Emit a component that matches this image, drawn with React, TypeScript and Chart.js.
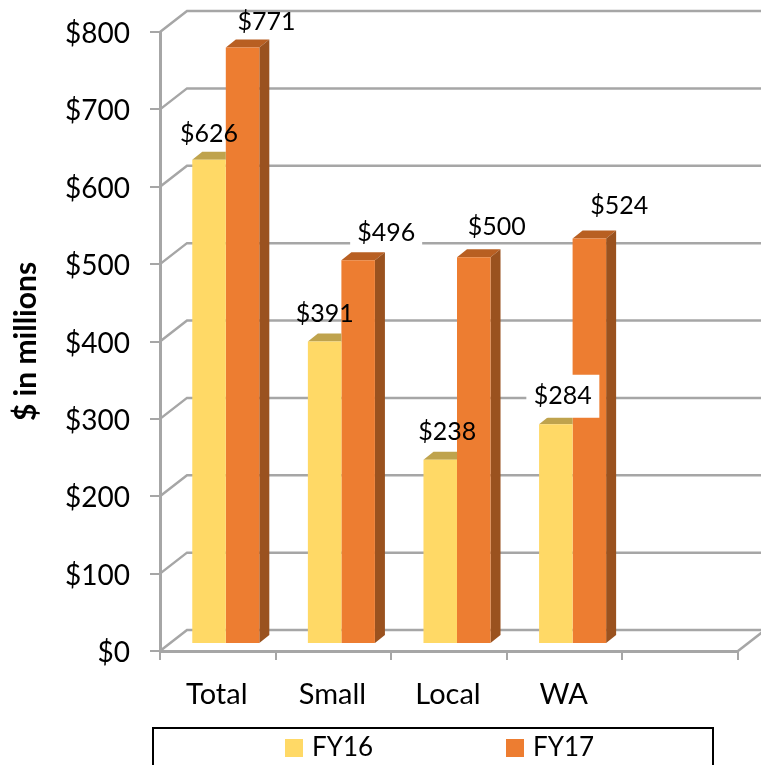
import React, { useEffect, useRef } from "react";
import { Chart, registerables } from "chart.js";

Chart.register(...registerables);

const categories = ["Total", "Small", "Local", "WA", ""];
const fy16 = [626, 391, 238, 284, null];
const fy17 = [771, 496, 500, 524, null];
const yTicks = [0, 100, 200, 300, 400, 500, 600, 700, 800];

const FONT = "Lato, Carlito, 'Open Sans', sans-serif";
const GRID = "#A6A6A6";
const AXIS_FONT = 28;
const DEPTH_X = 27;
const DEPTH_Y = 21;
const BAR_DX = 8;
const BAR_DY = -7;
const FACE_X = 10;
const FACE_Y = 8;

const colors = [
  { front: "#FFD966", top: "#BFA34D", side: "#A68C3F" },
  { front: "#ED7D31", top: "#B85F22", side: "#9A521F" },
];
// label offsets from the top-centre of each bar, [dx, dy]
const labelOffsets = [
  [[0, -26], [0, -28], [7, -28], [7, -28]],
  [[24, -26], [28, -27], [23, -30], [30, -33]],
];
// labels that sit on a white plate: [width, height]
const labelPlates: Record<string, number[]> = { "1-1": [72, 30], "0-3": [73, 43] };

const wallPlugin = {
  id: "wall",
  beforeDraw(chart: any) {
    const { ctx, chartArea: a, scales } = chart;
    ctx.save();
    ctx.strokeStyle = GRID;
    ctx.lineWidth = 2.5;
    for (const t of yTicks) {
      const y = scales.y.getPixelForValue(t);
      ctx.beginPath();
      ctx.moveTo(a.left, y);
      ctx.lineTo(a.left + DEPTH_X, y - DEPTH_Y);
      ctx.lineTo(a.right + DEPTH_X, y - DEPTH_Y);
      ctx.stroke();
    }
    ctx.beginPath();
    ctx.moveTo(a.right, a.bottom);
    ctx.lineTo(a.right + DEPTH_X, a.bottom - DEPTH_Y);
    ctx.stroke();
    ctx.restore();
  },
};

const barsPlugin = {
  id: "bars3d",
  beforeDatasetsDraw(chart: any) {
    chart.ctx.save();
    chart.ctx.translate(BAR_DX, BAR_DY);
  },
  // Chart.js paints the last dataset first, so FY17's faces go down first and
  // FY16's are trimmed where the FY17 bar stands in front of them.
  beforeDatasetDraw(chart: any, args: any) {
    const { ctx, data } = chart;
    const c = colors[args.index];
    const hiddenBehindNext = args.index === 0;
    const meta = chart.getDatasetMeta(args.index);
    meta.data.forEach((bar: any, i: number) => {
      if (data.datasets[args.index].data[i] == null) return;
      const { x, y, base, width } = bar.getProps(["x", "y", "base", "width"], true);
      const l = x - width / 2;
      const r = x + width / 2;
      ctx.fillStyle = c.top;
      ctx.beginPath();
      ctx.moveTo(l, y);
      ctx.lineTo(l + FACE_X, y - FACE_Y);
      ctx.lineTo(hiddenBehindNext ? r : r + FACE_X, y - FACE_Y);
      ctx.lineTo(r, y);
      ctx.closePath();
      ctx.fill();
      if (hiddenBehindNext) return;
      ctx.fillStyle = c.side;
      ctx.beginPath();
      ctx.moveTo(r, y);
      ctx.lineTo(r + FACE_X, y - FACE_Y);
      ctx.lineTo(r + FACE_X, base - FACE_Y);
      ctx.lineTo(r, base);
      ctx.closePath();
      ctx.fill();
    });
  },
  afterDatasetsDraw(chart: any) {
    chart.ctx.restore();
    const { ctx, data } = chart;
    ctx.save();
    ctx.font = `25px ${FONT}`;
    ctx.textAlign = "center";
    ctx.textBaseline = "middle";
    data.datasets.forEach((ds: any, d: number) => {
      chart.getDatasetMeta(d).data.forEach((bar: any, i: number) => {
        const v = ds.data[i];
        if (v == null) return;
        const [dx, dy] = labelOffsets[d][i];
        const px = bar.x + BAR_DX + dx;
        const py = bar.y + BAR_DY + dy;
        const plate = labelPlates[`${d}-${i}`];
        if (plate) {
          ctx.fillStyle = "#FFFFFF";
          ctx.fillRect(px - plate[0] / 2, py - plate[1] / 2, plate[0], plate[1]);
        }
        ctx.fillStyle = "#000000";
        ctx.fillText(`$${v}`, px, py);
      });
    });
    ctx.restore();
    // legend
    ctx.save();
    ctx.strokeStyle = "#000000";
    ctx.lineWidth = 2;
    ctx.strokeRect(153, 728, 560, 60);
    ctx.font = `26px ${FONT}`;
    ctx.textAlign = "left";
    ctx.textBaseline = "middle";
    data.datasets.forEach((ds: any, d: number) => {
      const x = 285 + d * 221;
      ctx.fillStyle = ds.backgroundColor;
      ctx.fillRect(x, 739, 18, 18);
      ctx.fillStyle = "#000000";
      ctx.fillText(ds.label, x + 27, 748);
    });
    ctx.restore();
  },
};

export default function App() {
  const ref = useRef<HTMLCanvasElement>(null);
  useEffect(() => {
    const chart = new Chart(ref.current as HTMLCanvasElement, {
      type: "bar",
      data: {
        labels: categories,
        datasets: [
          { label: "FY16", data: fy16, backgroundColor: colors[0].front, clip: false },
          { label: "FY17", data: fy17, backgroundColor: colors[1].front, clip: false },
        ],
      },
      plugins: [wallPlugin, barsPlugin],
      options: {
        responsive: false,
        animation: false,
        layout: { padding: { top: 32, right: 23, left: 0, bottom: 0 } },
        datasets: { bar: { barPercentage: 1, categoryPercentage: 0.58 } },
        plugins: { legend: { display: false }, tooltip: { enabled: false } },
        scales: {
          x: {
            afterFit: (s: any) => {
              s.height = 114;
              s.paddingLeft = 0;
              s.paddingRight = 0;
            },
            grid: { offset: true, drawOnChartArea: false, color: GRID, lineWidth: 2, tickLength: 9 },
            border: { color: GRID, width: 3 },
            ticks: {
              color: "#000000",
              padding: 17,
              labelOffset: -1,
              maxRotation: 0,
              font: { family: FONT, size: 29 },
            },
          },
          y: {
            min: 0,
            max: 800,
            afterFit: (s: any) => {
              s.width = 160;
              s.paddingTop = 0;
              s.paddingBottom = 0;
            },
            grid: { drawOnChartArea: false, color: GRID, lineWidth: 2, tickLength: 10 },
            border: { color: GRID, width: 3 },
            ticks: {
              stepSize: 100,
              color: "#000000",
              padding: 20,
              labelOffset: 2,
              font: { family: FONT, size: AXIS_FONT },
              callback: (v: any) => `$${v}`,
            },
            title: {
              display: true,
              text: "$ in millions",
              color: "#000000",
              padding: { top: 8, bottom: 0 },
              font: { family: FONT, size: 30, weight: "bold" },
            },
          },
        },
      },
    } as any);
    return () => chart.destroy();
  }, []);
  return (
    <div style={{ position: "absolute", left: 0, top: 0, width: 761, height: 765, overflow: "hidden", background: "#fff" }}>
      <canvas ref={ref} width={761} height={765} style={{ display: "block" }} />
    </div>
  );
}
